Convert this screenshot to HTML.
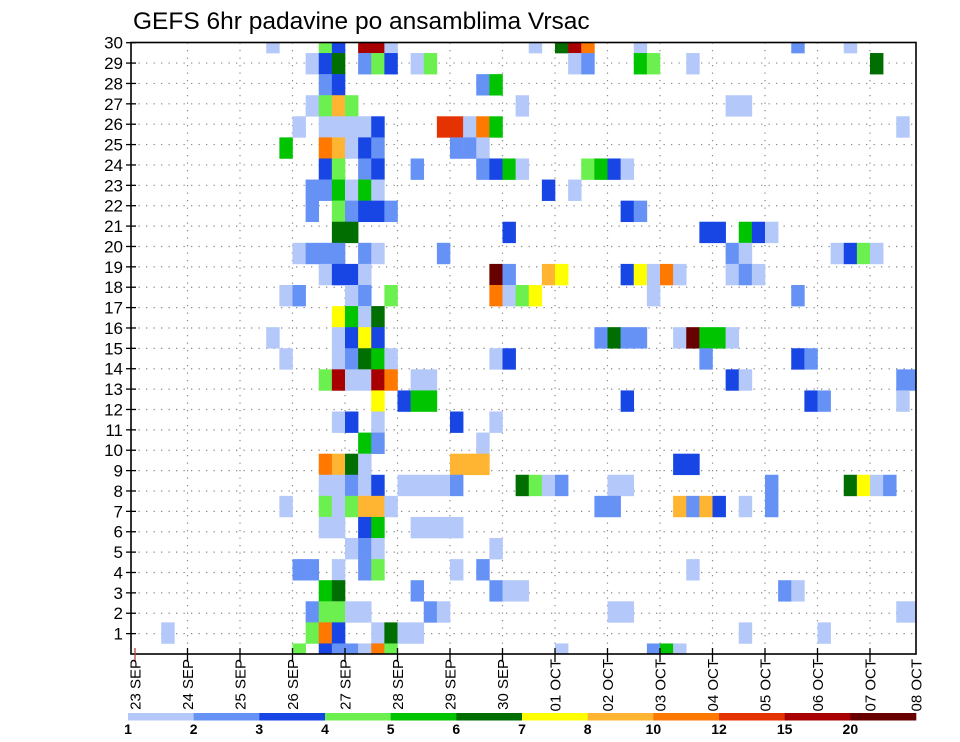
<!DOCTYPE html>
<html><head><meta charset="utf-8"><style>
html,body{margin:0;padding:0;background:#fff;}
svg{display:block;font-family:"Liberation Sans",Arial,sans-serif;}
</style></head><body>
<svg id="chart" width="960" height="742" viewBox="0 0 960 742" xmlns="http://www.w3.org/2000/svg">
<text x="133" y="29" font-size="24.5" fill="#000">GEFS 6hr padavine po ansamblima Vrsac</text>
<g id="grid"></g>
<g id="cells"></g>
<rect x="131" y="42.5" width="785" height="611.5" fill="none" stroke="#000" stroke-width="1.6"/>
<g id="yaxis"></g>
<g id="xaxis"></g>
<g id="legend"></g>
</svg>
<script>
// ---- data ----
const dayLabels = ["23 SEP","24 SEP","25 SEP","26 SEP","27 SEP","28 SEP","29 SEP","30 SEP","01 OCT","02 OCT","03 OCT","04 OCT","05 OCT","06 OCT","07 OCT","08 OCT"];
const memberLabels = [1,2,3,4,5,6,7,8,9,10,11,12,13,14,15,16,17,18,19,20,21,22,23,24,25,26,27,28,29,30];
const levelBounds = [1,2,3,4,5,6,7,8,10,12,15,20];
const levelColors = ["#b4c8fa","#6692f6","#1846e4","#6cf050","#00c400","#006e00","#ffff00","#ffb432","#ff7800","#e43200","#a80000","#680000"];
const levelValue = [1.5,2.5,3.5,4.5,5.5,6.5,7.5,9,11,13.5,17.5,25];
// cells: [6-hour step since 23 SEP 00Z, member row (0 = bottom), colour level 1..12]
const rawCells = [
[10,29,1],[14,29,4],[15,29,3],[17,29,11],[18,29,11],[19,29,1],[30,29,1],[32,29,6],[33,29,11],[34,29,9],[38,29,1],[50,29,2],[54,29,1],
[13,28,1],[14,28,3],[15,28,6],[17,28,2],[18,28,4],[19,28,3],[21,28,1],[22,28,4],[33,28,1],[34,28,2],[38,28,5],[39,28,4],[42,28,1],[56,28,6],
[14,27,2],[15,27,3],[26,27,2],[27,27,5],
[13,26,1],[14,26,4],[15,26,8],[16,26,4],[29,26,1],[45,26,1],[46,26,1],
[12,25,1],[14,25,1],[15,25,1],[16,25,1],[17,25,1],[18,25,3],[23,25,10],[24,25,10],[25,25,1],[26,25,9],[27,25,5],[58,25,1],
[11,24,5],[14,24,9],[15,24,8],[16,24,1],[17,24,3],[18,24,2],[24,24,2],[25,24,2],[26,24,1],
[14,23,3],[15,23,4],[17,23,2],[18,23,3],[21,23,2],[26,23,2],[27,23,3],[28,23,5],[29,23,1],[34,23,4],[35,23,5],[36,23,3],[37,23,1],
[13,22,2],[14,22,2],[15,22,5],[16,22,1],[17,22,5],[18,22,1],[31,22,3],[33,22,1],
[13,21,2],[15,21,4],[16,21,2],[17,21,3],[18,21,3],[19,21,2],[37,21,3],[38,21,2],
[15,20,6],[16,20,6],[28,20,3],[43,20,3],[44,20,3],[46,20,5],[47,20,3],[48,20,1],
[12,19,1],[13,19,2],[14,19,2],[15,19,2],[17,19,2],[18,19,1],[23,19,2],[45,19,2],[46,19,1],[53,19,1],[54,19,3],[55,19,4],[56,19,1],
[14,18,1],[15,18,3],[16,18,3],[17,18,1],[27,18,12],[28,18,2],[31,18,8],[32,18,7],[37,18,3],[38,18,7],[39,18,1],[40,18,9],[41,18,1],[45,18,1],[46,18,2],[47,18,1],
[11,17,1],[12,17,2],[16,17,1],[17,17,2],[19,17,4],[27,17,9],[28,17,1],[29,17,4],[30,17,7],[39,17,1],[50,17,2],
[15,16,7],[16,16,5],[17,16,1],[18,16,6],
[10,15,1],[15,15,1],[16,15,3],[17,15,7],[18,15,3],[35,15,2],[36,15,6],[37,15,2],[38,15,2],[41,15,1],[42,15,12],[43,15,5],[44,15,5],[45,15,1],
[11,14,1],[15,14,1],[16,14,2],[17,14,6],[18,14,5],[19,14,1],[27,14,1],[28,14,3],[43,14,2],[50,14,3],[51,14,2],
[14,13,4],[15,13,11],[16,13,1],[17,13,1],[18,13,11],[19,13,9],[21,13,1],[22,13,1],[45,13,3],[46,13,1],[58,13,2],[59,13,2],
[18,12,7],[20,12,3],[21,12,5],[22,12,5],[37,12,3],[51,12,3],[52,12,2],[58,12,1],
[15,11,1],[16,11,3],[18,11,1],[24,11,3],[27,11,1],
[17,10,5],[18,10,2],[26,10,1],
[14,9,9],[15,9,8],[16,9,6],[17,9,1],[24,9,8],[25,9,8],[26,9,8],[41,9,3],[42,9,3],
[14,8,1],[15,8,1],[16,8,2],[17,8,1],[18,8,3],[20,8,1],[21,8,1],[22,8,1],[23,8,1],[24,8,2],[29,8,6],[30,8,4],[31,8,1],[32,8,2],[36,8,1],[37,8,1],[48,8,2],[54,8,6],[55,8,7],[56,8,1],[57,8,2],
[11,7,1],[14,7,4],[15,7,1],[16,7,4],[17,7,8],[18,7,8],[19,7,1],[35,7,2],[36,7,2],[41,7,8],[42,7,2],[43,7,8],[44,7,3],[46,7,1],[48,7,2],
[14,6,1],[15,6,1],[17,6,3],[18,6,5],[21,6,1],[22,6,1],[23,6,1],[24,6,1],
[16,5,1],[17,5,2],[18,5,1],[27,5,1],
[12,4,2],[13,4,2],[15,4,1],[17,4,2],[18,4,4],[24,4,1],[26,4,2],[42,4,1],
[14,3,5],[15,3,6],[21,3,2],[27,3,2],[28,3,1],[29,3,1],[49,3,2],[50,3,1],
[13,2,2],[14,2,4],[15,2,4],[16,2,1],[17,2,1],[22,2,2],[23,2,1],[36,2,1],[37,2,1],[58,2,1],[59,2,1],
[2,1,1],[13,1,4],[14,1,9],[15,1,3],[18,1,1],[19,1,6],[20,1,1],[21,1,1],[46,1,1],[52,1,1],
[12,0,4],[14,0,3],[15,0,2],[16,0,2],[17,0,1],[18,0,9],[19,0,4],[32,0,1],[39,0,2],[40,0,5],[41,0,1]
];
const cellStep = rawCells.map(c => c[0]);
const cellMember = rawCells.map(c => c[1]);
const cellValue = rawCells.map(c => levelValue[c[2]-1]);

// ---- geometry / scales ----
const NS = "http://www.w3.org/2000/svg";
const PL = 131, PR = 916, PT = 42.5, PB = 654;
const X0 = 135, DAY = 52.5;
function xDay(d){ return X0 + d*DAY; }
function xStep(s){ return X0 + s*DAY/4; }
const CELLH = (PB - PT) / 29;
function yMember(k){ return PB - k*CELLH; }
const GRIDH = (PB - 42.7) / 30;
function yLabel(r){ return PB - r*GRIDH; }
function colorFor(v){
  let idx = -1;
  for (let j = 0; j < levelBounds.length; j++) if (v >= levelBounds[j]) idx = j;
  return idx < 0 ? null : levelColors[idx];
}
function mk(tag, attrs, parent){
  const e = document.createElementNS(NS, tag);
  for (const k in attrs) e.setAttribute(k, attrs[k]);
  parent.appendChild(e);
  return e;
}

// grid
const grid = document.getElementById("grid");
for (let r = 1; r < memberLabels.length; r++) {
  const y = yLabel(r);
  const l = mk("line", {x1:PL, x2:PR, y1:y, y2:y, stroke:"#8a8a8a", "stroke-width":1.2, "stroke-dasharray":"1.3 6.2"}, grid);
  
  
}
for (let d = 1; d < dayLabels.length - 1; d++) {
  const x = xDay(d);
  const l = mk("line", {x1:x, x2:x, y1:PT, y2:PB, stroke:"#8a8a8a", "stroke-width":1.2, "stroke-dasharray":"1.3 6.2"}, grid);
  
  
}

// cells
const cells = document.getElementById("cells");
const clip = mk("clipPath", {id:"plotclip"}, cells);
mk("rect", {x:PL, y:PT, width:PR-PL, height:PB-PT}, clip);
cells.setAttribute("clip-path", "url(#plotclip)");
for (let n = 0; n < cellStep.length; n++) {
  const col = colorFor(cellValue[n]);
  if (!col) continue;
  const x = xStep(cellStep[n]);
  const yc = yMember(cellMember[n]);
  const r = mk("rect", {x:x, y:yc - CELLH/2, width:DAY/4 + 0.3, height:CELLH + 0.3, fill:col}, cells);
  
  
}

// y axis
const yax = document.getElementById("yaxis");
for (let r = 0; r < memberLabels.length; r++) {
  const y = yLabel(r + 1);
  const t = mk("line", {x1:126, x2:136, y1:y, y2:y, stroke:"#000", "stroke-width":1.3}, yax);
  
  
  const tx = mk("text", {x:123, y:y + 6, "font-size":17, "text-anchor":"end", fill:"#000"}, yax);
  tx.textContent = memberLabels[r];
  
  
}

// x axis
const xax = document.getElementById("xaxis");
for (let d = 0; d < dayLabels.length; d++) {
  const x = d === dayLabels.length - 1 ? PR : xDay(d);
  if (d < dayLabels.length - 1) {
    const t = mk("line", {x1:x, x2:x, y1:PB - 6, y2:PB + 8, stroke: d === 0 ? "#c04040" : "#000", "stroke-width":1.3}, xax);
    
    
  }
  const tx = mk("text", {x:0, y:0, "font-size":15, "text-anchor":"end", fill:"#000",
    transform:"translate(" + (x + 5.5) + "," + 659 + ") rotate(-90)"}, xax);
  tx.textContent = dayLabels[d];
  
  
}

// legend
const leg = document.getElementById("legend");
const LL = 128, LR = 916, LW = (LR - LL) / levelColors.length;
for (let j = 0; j < levelColors.length; j++) {
  const b = mk("rect", {x:LL + j*LW, y:713, width:LW + 0.3, height:7.5, fill:levelColors[j]}, leg);
  
  
  const tx = mk("text", {x:LL + j*LW, y:734, "font-size":14, "font-weight":"bold", "text-anchor":"middle", fill:"#000"}, leg);
  tx.textContent = levelBounds[j];
  
  
}
</script>
</body></html>
